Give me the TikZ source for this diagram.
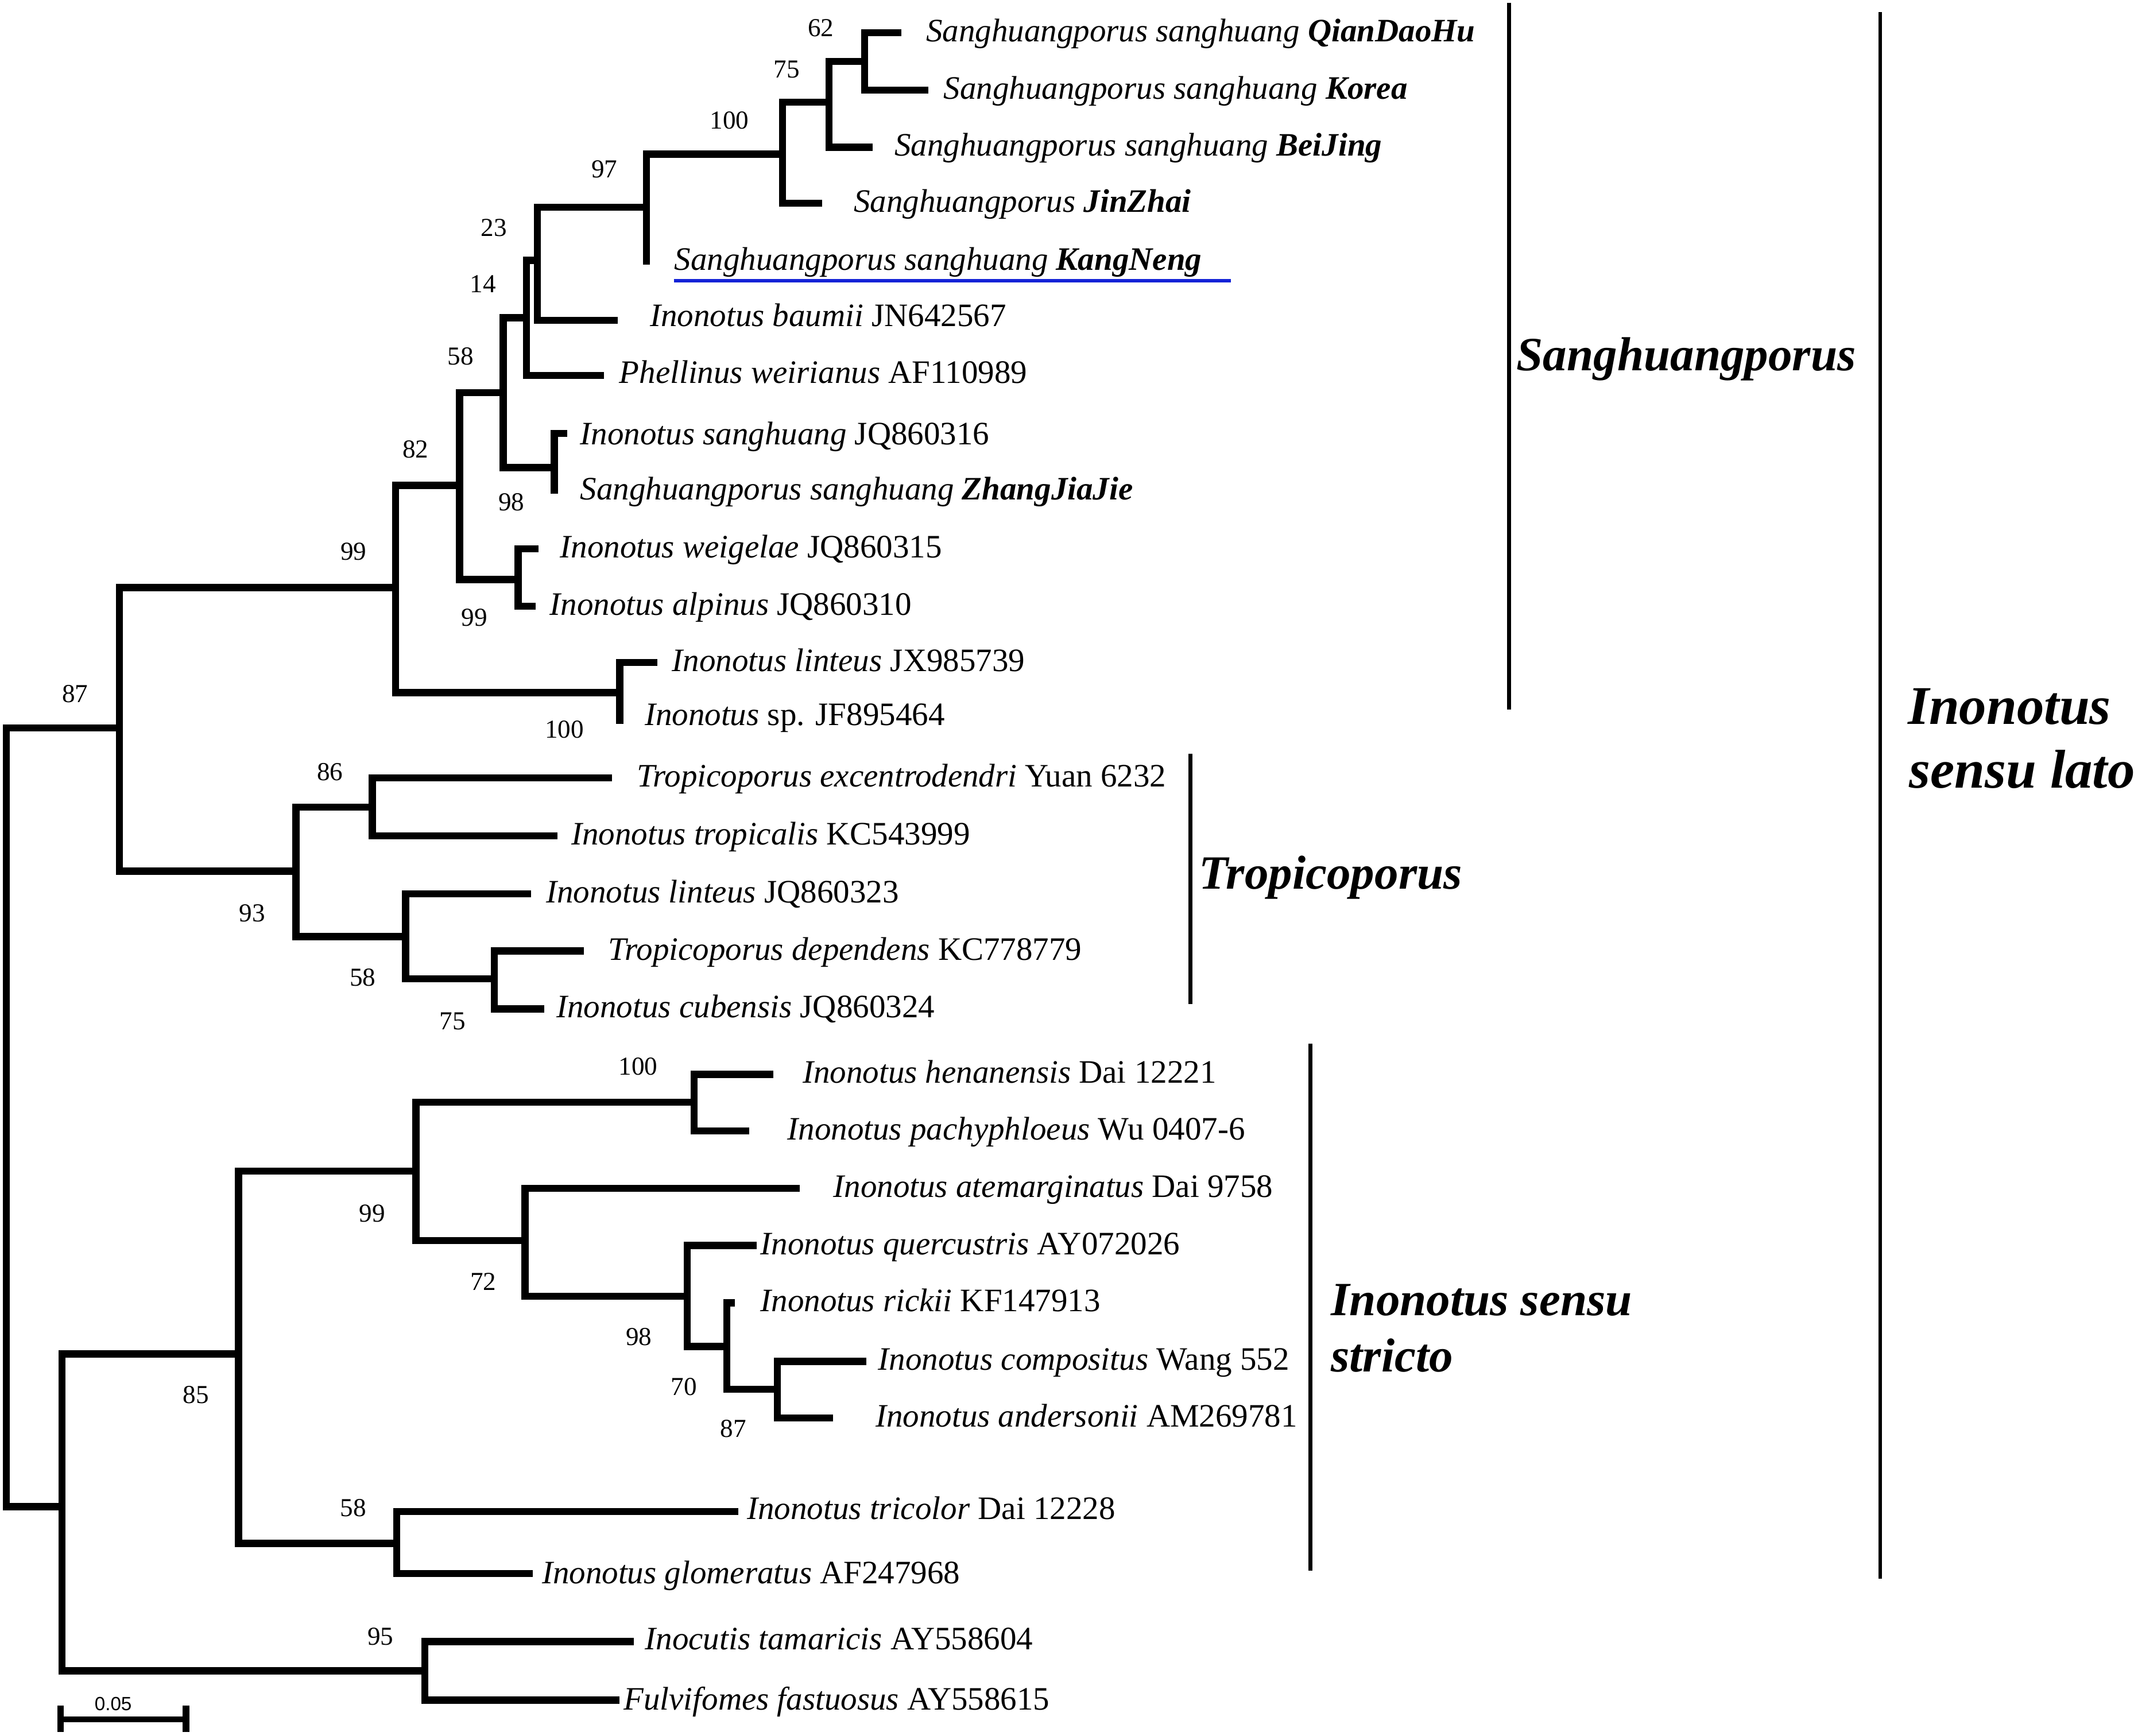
\documentclass[tikz,border=0pt]{standalone}
\usepackage{fontspec}
\setmainfont{Liberation Serif}
\newfontfamily\sansf{Liberation Sans}
\definecolor{ulblue}{RGB}{20,35,215}
\newcommand{\taxfont}{\fontsize{24}{28}\selectfont}
\newcommand{\bootfont}{\fontsize{19}{22}\selectfont}
\newcommand{\cladefont}{\fontsize{35}{40}\selectfont\bfseries\itshape}
\newcommand{\bigcladefont}{\fontsize{40}{44}\selectfont\bfseries\itshape}
\tikzset{
  branch/.style={line width=5.2pt, line join=miter, line cap=butt},
  cladebar/.style={line width=2.8pt},
  taxon/.style={anchor=base west, inner sep=0pt, font=\taxfont},
  boot/.style={anchor=center, inner sep=0pt, font=\bootfont},
  cladelabel/.style={anchor=base west, inner sep=0pt, font=\cladefont},
  bigcladelabel/.style={anchor=base west, inner sep=0pt, font=\bigcladefont},
}
\begin{document}
\begin{tikzpicture}[x=1pt,y=-1pt]
\useasboundingbox[fill=white] (0,0) rectangle (1568,1273);

% ---------- internal nodes ----------
\coordinate (R)     at (4.5,800);
\coordinate (A)     at (87.5,534);
\coordinate (A1)    at (290,431);
\coordinate (N82)   at (337,356);
\coordinate (N58a)  at (369,288);
\coordinate (N14)   at (386,233);
\coordinate (N23)   at (394,191);
\coordinate (N97)   at (474,152);
\coordinate (N100b) at (574,113);
\coordinate (N75)   at (608,75);
\coordinate (N62)   at (634,45);
\coordinate (N98a)  at (406.5,343);
\coordinate (N99s)  at (380,425);
\coordinate (N100a) at (454.5,508);
\coordinate (A2)    at (217,639);
\coordinate (N86)   at (273,592);
\coordinate (N58b)  at (297.5,687);
\coordinate (N75b)  at (362.5,718);
\coordinate (B)     at (45.5,1105);
\coordinate (N85)   at (175,993);
\coordinate (N99b)  at (305,859);
\coordinate (N100c) at (509,808.5);
\coordinate (N72)   at (385,910);
\coordinate (N98b)  at (504,950.6);
\coordinate (N70)   at (533,987.5);
\coordinate (N87)   at (570,1019);
\coordinate (N58c)  at (291,1132);
\coordinate (N95)   at (311.5,1225.5);

% ---------- leaf ends ----------
\coordinate (lQian)  at (661,24);
\coordinate (lKorea) at (681,66);
\coordinate (lBei)   at (640,108);
\coordinate (lJin)   at (603,149);
\coordinate (lKang)  at (474,194);
\coordinate (lBaum)  at (453,235);
\coordinate (lPhel)  at (443,275.5);
\coordinate (lIsang) at (416,318);
\coordinate (lZhang) at (406.5,362);
\coordinate (lWeig)  at (395,402.5);
\coordinate (lAlp)   at (393,444.5);
\coordinate (lLinX)  at (482,486);
\coordinate (lSp)    at (454.5,531);
\coordinate (lExc)   at (449,570.5);
\coordinate (lTrop)  at (409,613);
\coordinate (lLinQ)  at (389.4,655.5);
\coordinate (lDep)   at (428,697.5);
\coordinate (lCub)   at (399,740);
\coordinate (lHen)   at (567,788);
\coordinate (lPach)  at (549.5,829.5);
\coordinate (lAtem)  at (586.5,871.7);
\coordinate (lQuer)  at (555,913.5);
\coordinate (lRick)  at (539,955.6);
\coordinate (lComp)  at (635.5,998.5);
\coordinate (lAnd)   at (611,1040);
\coordinate (lTric)  at (541.4,1108.5);
\coordinate (lGlom)  at (390.7,1154);
\coordinate (lIcut)  at (465,1204);
\coordinate (lFulv)  at (454.3,1247);

% ---------- branches ----------
\draw[branch] (R) |- (A);   \draw[branch] (R) |- (B);
\draw[branch] (A) |- (A1);  \draw[branch] (A) |- (A2);
\draw[branch] (A1) |- (N82); \draw[branch] (A1) |- (N100a);
\draw[branch] (N82) |- (N58a); \draw[branch] (N82) |- (N99s);
\draw[branch] (N58a) |- (N14); \draw[branch] (N58a) |- (N98a);
\draw[branch] (N14) |- (N23); \draw[branch] (N14) |- (lPhel);
\draw[branch] (N23) |- (N97); \draw[branch] (N23) |- (lBaum);
\draw[branch] (N97) |- (N100b); \draw[branch] (N97) |- (lKang);
\draw[branch] (N100b) |- (N75); \draw[branch] (N100b) |- (lJin);
\draw[branch] (N75) |- (N62); \draw[branch] (N75) |- (lBei);
\draw[branch] (N62) |- (lQian); \draw[branch] (N62) |- (lKorea);
\draw[branch] (N98a) |- (lIsang); \draw[branch] (N98a) |- (lZhang);
\draw[branch] (N99s) |- (lWeig); \draw[branch] (N99s) |- (lAlp);
\draw[branch] (N100a) |- (lLinX); \draw[branch] (N100a) |- (lSp);
\draw[branch] (A2) |- (N86); \draw[branch] (A2) |- (N58b);
\draw[branch] (N86) |- (lExc); \draw[branch] (N86) |- (lTrop);
\draw[branch] (N58b) |- (lLinQ); \draw[branch] (N58b) |- (N75b);
\draw[branch] (N75b) |- (lDep); \draw[branch] (N75b) |- (lCub);
\draw[branch] (B) |- (N85); \draw[branch] (B) |- (N95);
\draw[branch] (N85) |- (N99b); \draw[branch] (N85) |- (N58c);
\draw[branch] (N99b) |- (N100c); \draw[branch] (N99b) |- (N72);
\draw[branch] (N100c) |- (lHen); \draw[branch] (N100c) |- (lPach);
\draw[branch] (N72) |- (lAtem); \draw[branch] (N72) |- (N98b);
\draw[branch] (N98b) |- (lQuer); \draw[branch] (N98b) |- (N70);
\draw[branch] (N70) |- (lRick); \draw[branch] (N70) |- (N87);
\draw[branch] (N87) |- (lComp); \draw[branch] (N87) |- (lAnd);
\draw[branch] (N58c) |- (lTric); \draw[branch] (N58c) |- (lGlom);
\draw[branch] (N95) |- (lIcut); \draw[branch] (N95) |- (lFulv);

% ---------- taxon labels ----------
\node[taxon] (tQian)  at (679,30.5)   {\itshape Sanghuangporus sanghuang \textbf{QianDaoHu}};
\node[taxon] (tKorea) at (692,72.5)   {\itshape Sanghuangporus sanghuang \textbf{Korea}};
\node[taxon] (tBei)   at (656,114.5)  {\itshape Sanghuangporus sanghuang \textbf{BeiJing}};
\node[taxon] (tJin)   at (626,155.5)  {\itshape Sanghuangporus \textbf{JinZhai}};
\node[taxon] (tKang)  at (494.5,198)  {\itshape Sanghuangporus sanghuang \textbf{KangNeng}};
\node[taxon] (tBaum)  at (476.5,239.5){\textit{Inonotus baumii} JN642567};
\node[taxon] (tPhel)  at (454,281)    {\textit{Phellinus weirianus} AF110989};
\node[taxon] (tIsang) at (425.4,326)  {\textit{Inonotus sanghuang} JQ860316};
\node[taxon] (tZhang) at (425.4,366.7){\itshape Sanghuangporus sanghuang \textbf{ZhangJiaJie}};
\node[taxon] (tWeig)  at (410.6,409)  {\textit{Inonotus weigelae} JQ860315};
\node[taxon] (tAlp)   at (403,451)    {\textit{Inonotus alpinus} JQ860310};
\node[taxon] (tLinX)  at (492.8,492.5){\textit{Inonotus linteus} JX985739};
\node[taxon] (tSp)    at (472.7,532.2){\textit{Inonotus} sp. JF895464};
\node[taxon] (tExc)   at (466.8,577)  {\textit{Tropicoporus excentrodendri} Yuan 6232};
\node[taxon] (tTrop)  at (418.9,619.5){\textit{Inonotus tropicalis} KC543999};
\node[taxon] (tLinQ)  at (400.3,662)  {\textit{Inonotus linteus} JQ860323};
\node[taxon] (tDep)   at (446.1,704)  {\textit{Tropicoporus dependens} KC778779};
\node[taxon] (tCub)   at (408,746.5)  {\textit{Inonotus cubensis} JQ860324};
\node[taxon] (tHen)   at (588.5,794.5){\textit{Inonotus henanensis} Dai 12221};
\node[taxon] (tPach)  at (577.3,836)  {\textit{Inonotus pachyphloeus} Wu 0407-6};
\node[taxon] (tAtem)  at (611,878)    {\textit{Inonotus atemarginatus} Dai 9758};
\node[taxon] (tQuer)  at (557.5,920)  {\textit{Inonotus quercustris} AY072026};
\node[taxon] (tRick)  at (557.5,962)  {\textit{Inonotus rickii} KF147913};
\node[taxon] (tComp)  at (644,1005)   {\textit{Inonotus compositus} Wang 552};
\node[taxon] (tAnd)   at (642,1046.5) {\textit{Inonotus andersonii} AM269781};
\node[taxon] (tTric)  at (547.7,1114.4){\textit{Inonotus tricolor} Dai 12228};
\node[taxon] (tGlom)  at (397.3,1161.4){\textit{Inonotus glomeratus} AF247968};
\node[taxon] (tIcut)  at (472.9,1209.7){\textit{Inocutis tamaricis} AY558604};
\node[taxon] (tFulv)  at (457.2,1254) {\textit{Fulvifomes fastuosus} AY558615};

% blue underline of KangNeng
\coordinate (ulA) at (494.2,205.9);
\coordinate (ulB) at (902.7,205.9);
\draw[ulblue, line width=2.8pt] (ulA) -- (ulB);

% ---------- bootstrap values ----------
\node[boot] (b62)  at (602,20.5)   {62};
\node[boot] (b75)  at (577,50.8)   {75};
\node[boot] (b100a) at (535,88.3)  {100};
\node[boot] (b97)  at (443.3,124)  {97};
\node[boot] (b23)  at (362.3,167)  {23};
\node[boot] (b14)  at (354.3,208.3){14};
\node[boot] (b58a) at (337.9,261.4){58};
\node[boot] (b82)  at (304.7,329.4){82};
\node[boot] (b98a) at (375,368.2)  {98};
\node[boot] (b99a) at (259.3,404.7){99};
\node[boot] (b99b) at (347.8,453)  {99};
\node[boot] (b87a) at (55,509)     {87};
\node[boot] (b100b) at (414,535)   {100};
\node[boot] (b86)  at (242,566)    {86};
\node[boot] (b93)  at (185,670)    {93};
\node[boot] (b58b) at (266,717)    {58};
\node[boot] (b75b) at (332,749)    {75};
\node[boot] (b100c) at (468,782.3) {100};
\node[boot] (b99c) at (273,890)    {99};
\node[boot] (b72)  at (354.5,940)  {72};
\node[boot] (b98b) at (468.5,980.6){98};
\node[boot] (b70)  at (501.5,1017) {70};
\node[boot] (b87b) at (537.8,1048) {87};
\node[boot] (b85)  at (143.7,1023) {85};
\node[boot] (b58c) at (259,1105.8) {58};
\node[boot] (b95)  at (279,1200.5) {95};

% ---------- clade bars ----------
\coordinate (sgT) at (1106.6,2);    \coordinate (sgB) at (1106.6,520.5);
\coordinate (trT) at (873,553);     \coordinate (trB) at (873,736.6);
\coordinate (ssT) at (961,765.6);   \coordinate (ssB) at (961,1152);
\coordinate (slT) at (1379,9);      \coordinate (slB) at (1379,1158);
\draw[cladebar] (sgT) -- (sgB);
\draw[cladebar] (trT) -- (trB);
\draw[cladebar] (ssT) -- (ssB);
\draw[cladebar] (slT) -- (slB);
\node[cladelabel] (cSang) at (1112,272) {Sanghuangporus};
\node[cladelabel] (cTrop) at (879,652) {Tropicoporus};
\node[cladelabel] (cSS1) at (976,965) {Inonotus sensu};
\node[cladelabel] (cSS2) at (976,1006) {stricto};
\node[bigcladelabel] (cSL1) at (1399,531) {Inonotus};
\node[bigcladelabel] (cSL2) at (1400,578) {sensu lato};

% ---------- scale bar ----------
\coordinate (sbL) at (44.3,1261);
\coordinate (sbR) at (136.4,1261);
\coordinate (sbLt) at (44.3,1251); \coordinate (sbLb) at (44.3,1270.5);
\coordinate (sbRt) at (136.4,1251); \coordinate (sbRb) at (136.4,1270.5);
\draw[line width=4.4pt] (sbL) -- (sbR);
\draw[line width=4.8pt] (sbLt) -- (sbLb);
\draw[line width=4.8pt] (sbRt) -- (sbRb);
\node[anchor=center, inner sep=0pt, font=\sansf\fontsize{14}{16}\selectfont] (sbT) at (83,1249.5) {0.05};
\end{tikzpicture}
\end{document}
